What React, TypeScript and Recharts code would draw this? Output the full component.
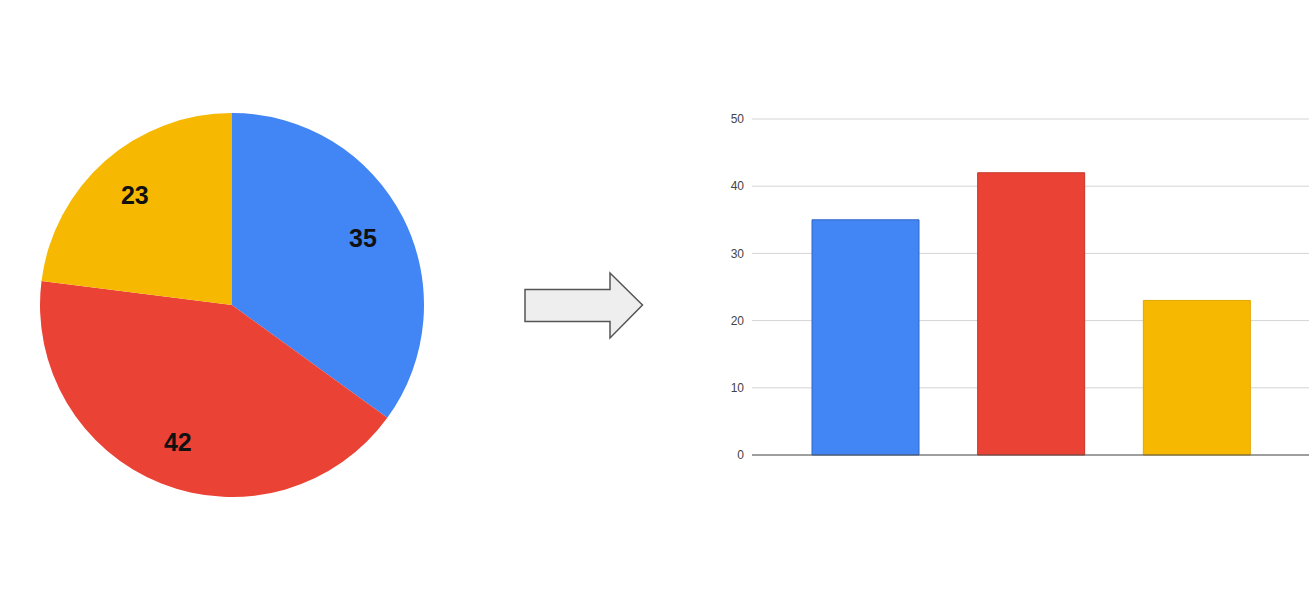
import { Bar, BarChart, CartesianGrid, Cell, Pie, PieChart, ReferenceLine, XAxis, YAxis } from "recharts";

const categories = ["Blue", "Red", "Yellow"];
const values = [35, 42, 23];
const yTicks = [0, 10, 20, 30, 40, 50];

const fills = ["#4285F4", "#EA4335", "#F6B800"];
const edges = ["#2f66c4", "#c7342a", "#e0a800"];

const rows = categories.map((name, i) => ({ name, value: values[i] }));

const RAD = Math.PI / 180;

function SliceLabel(props: any) {
  const { cx, cy, midAngle, value } = props;
  const r = 147;
  const x = cx + r * Math.cos(-midAngle * RAD);
  const y = cy + r * Math.sin(-midAngle * RAD);
  return (
    <text
      x={x}
      y={y}
      textAnchor="middle"
      dominantBaseline="central"
      fill="#111"
      fontSize={25}
      fontWeight="bold"
      fontFamily="'Liberation Sans', Arial, sans-serif"
    >
      {value}
    </text>
  );
}

export default function App() {
  return (
    <div style={{ position: "fixed", left: 0, top: 0, width: 1314, height: 600, background: "#fff" }}>
      <div style={{ position: "absolute", left: 0, top: 0 }}>
        <PieChart width={464} height={600} margin={{ top: 0, right: 0, bottom: 0, left: 0 }}>
          <Pie
            data={rows}
            dataKey="value"
            nameKey="name"
            cx={232}
            cy={305}
            outerRadius={192}
            startAngle={90}
            endAngle={-270}
            stroke="none"
            label={SliceLabel}
            labelLine={false}
            isAnimationActive={false}
          >
            {rows.map((r, i) => (
              <Cell key={r.name} fill={fills[i]} />
            ))}
          </Pie>
        </PieChart>
      </div>

      {/* the arrow between the two charts */}
      <svg style={{ position: "absolute", left: 0, top: 0 }} width={1314} height={600}>
        <polygon
          points="525,289.5 610,289.5 610,273 642.5,305 610,338 610,321.5 525,321.5"
          fill="#eeeeee"
          stroke="#555"
          strokeWidth={1.5}
          strokeLinejoin="miter"
        />
      </svg>

      <div style={{ position: "absolute", left: 680, top: 0 }}>
        <BarChart
          width={634}
          height={600}
          data={rows}
          margin={{ top: 119, right: 5, bottom: 145, left: 0 }}
        >
          <CartesianGrid vertical={false} stroke="#d4d4d4" />
          <XAxis dataKey="name" hide padding={{ left: 31, right: 29 }} />
          <YAxis
            width={72}
            domain={[0, 50]}
            ticks={yTicks}
            axisLine={false}
            tickLine={false}
            tick={{ fontSize: 12, fill: "#444", fontFamily: "'Liberation Sans', Arial, sans-serif" }}
          />
          <Bar dataKey="value" barSize={107} isAnimationActive={false}>
            {rows.map((r, i) => (
              <Cell key={r.name} fill={fills[i]} stroke={edges[i]} strokeWidth={1} />
            ))}
          </Bar>
          <ReferenceLine y={0} stroke="#555" strokeWidth={1.2} />
        </BarChart>
      </div>
    </div>
  );
}
